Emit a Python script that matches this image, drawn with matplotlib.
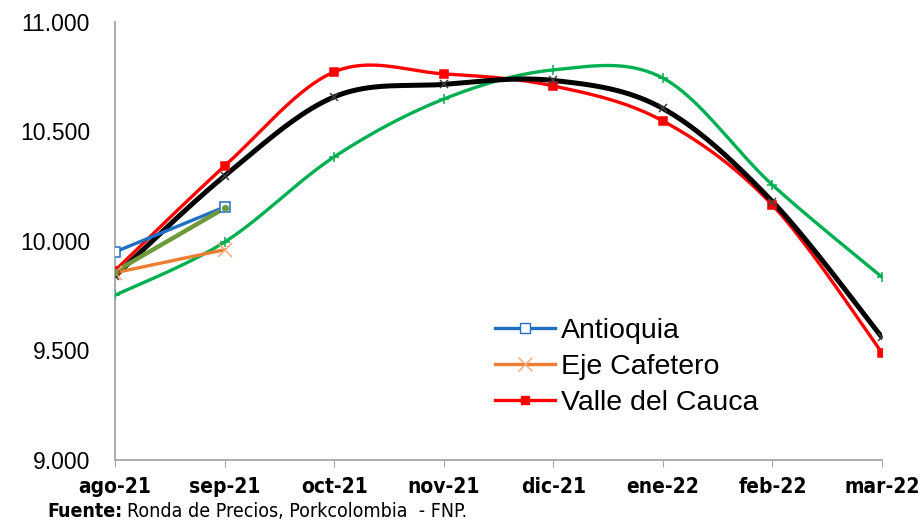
#Precio promedio del cerdo en pie por region, ago-21 a mar-22
import matplotlib.pyplot as plt
import numpy as np
from matplotlib import font_manager as fm

meses = ['ago-21', 'sep-21', 'oct-21', 'nov-21', 'dic-21', 'ene-22', 'feb-22', 'mar-22']

antioquia = [9950, 10155]
eje_cafetero = [9855, 9960]
valle = [9865, 10342, 10772, 10763, 10708, 10548, 10164, 9490]
verde = [9752, 9995, 10384, 10648, 10781, 10744, 10256, 9835]
oliva = [9860, 10150]
nacional = [9840, 10297, 10658, 10715, 10733, 10605, 10180, 9560]


def suavizar(y, n=40):
    # curva suavizada estilo Excel (Bezier con puntos de control tipo Catmull-Rom)
    x = np.arange(len(y), dtype=float)
    y = np.asarray(y, dtype=float)
    if len(y) < 3:
        return x, y
    xs, ys = [], []
    for i in range(len(y) - 1):
        i0 = max(i - 1, 0)
        i3 = min(i + 2, len(y) - 1)
        p0 = np.array([x[i], y[i]])
        p3 = np.array([x[i + 1], y[i + 1]])
        c1 = p0 + (np.array([x[i + 1], y[i + 1]]) - np.array([x[i0], y[i0]])) / 6.0
        c2 = p3 - (np.array([x[i3], y[i3]]) - np.array([x[i], y[i]])) / 6.0
        t = np.linspace(0, 1, n)[:, None]
        b = (1 - t)**3 * p0 + 3 * (1 - t)**2 * t * c1 + 3 * (1 - t) * t**2 * c2 + t**3 * p3
        xs.extend(b[:, 0])
        ys.extend(b[:, 1])
    return np.array(xs), np.array(ys)


plt.rcParams['font.family'] = ['Liberation Sans', 'DejaVu Sans']

# fuente angosta si existe
nombres = {f.name for f in fm.fontManager.ttflist}
if 'Liberation Sans Narrow' in nombres:
    angosta = dict(family='Liberation Sans Narrow')
else:
    angosta = dict(family='DejaVu Sans', stretch='condensed')

fig = plt.figure(figsize=(9.24, 5.23), dpi=100)
ax = fig.add_axes([0.1245, 0.1205, 0.83, 0.8375])

series = [
    (verde, '#00B050', 2.4, '+', 7, '#00B050', 'none'),
    (valle, '#FF0000', 2.4, 's', 6, '#FF0000', '#FF0000'),
    (nacional, '#000000', 3.6, 'x', 6, '#404040', '#404040'),
    (antioquia, '#1F6FC5', 2.4, 's', 7, '#1F6FC5', 'white'),
    (eje_cafetero, '#ED7D31', 2.4, 'x', 10, '#F4A97A', '#F4A97A'),
    (oliva, '#6F9A3C', 3.2, 'o', 4, '#6F9A3C', '#6F9A3C'),
]
for y, c, lw, mk, ms, mec, mfc in series:
    xs, ys = suavizar(y)
    ax.plot(xs, ys, color=c, lw=lw, solid_capstyle='round', zorder=2)
    ax.plot(range(len(y)), y, ls='none', marker=mk, ms=ms, mec=mec, mfc=mfc,
            mew=1.1, zorder=3)

# leyenda (solo las tres regiones visibles)
h1, = ax.plot([], [], color='#1F6FC5', lw=2.4, marker='s', ms=7, mfc='white', mec='#1F6FC5')
h2, = ax.plot([], [], color='#ED7D31', lw=2.4, marker='x', ms=10, mec='#F4A97A')
h3, = ax.plot([], [], color='#FF0000', lw=2.4, marker='s', ms=6)
ax.legend([h1, h2, h3], ['Antioquia', 'Eje Cafetero', 'Valle del Cauca'],
          loc='upper left', bbox_to_anchor=(0.47, 0.37), frameon=False,
          fontsize=20.5, handlelength=2.1, handletextpad=0.2, labelspacing=0.36,
          borderpad=0.2)

ax.set_xlim(0, len(meses) - 1)
ax.set_ylim(9000, 11000)
ax.set_yticks([9000, 9500, 10000, 10500, 11000])
ax.set_yticklabels(['9.000', '9.500', '10.000', '10.500', '11.000'], fontsize=16.5)
ax.set_xticks(range(len(meses)))
ax.set_xticklabels(meses, fontsize=15, fontweight='bold', **angosta)
ax.tick_params(axis='y', length=0, pad=18)
ax.tick_params(axis='x', length=5, color='#A6A6A6', pad=7)
for s in ['top', 'right']:
    ax.spines[s].set_visible(False)
ax.spines['left'].set_color('#A6A6A6')
ax.spines['bottom'].set_color('#A6A6A6')
ax.spines['left'].set_linewidth(1.3)
ax.spines['bottom'].set_linewidth(1.3)

fig.text(0.051, 0.012, 'Fuente:', fontsize=14, fontweight='bold', **angosta)
fig.text(0.137, 0.012, 'Ronda de Precios, Porkcolombia  - FNP.', fontsize=14, **angosta)

plt.savefig('out.png', dpi=100)
